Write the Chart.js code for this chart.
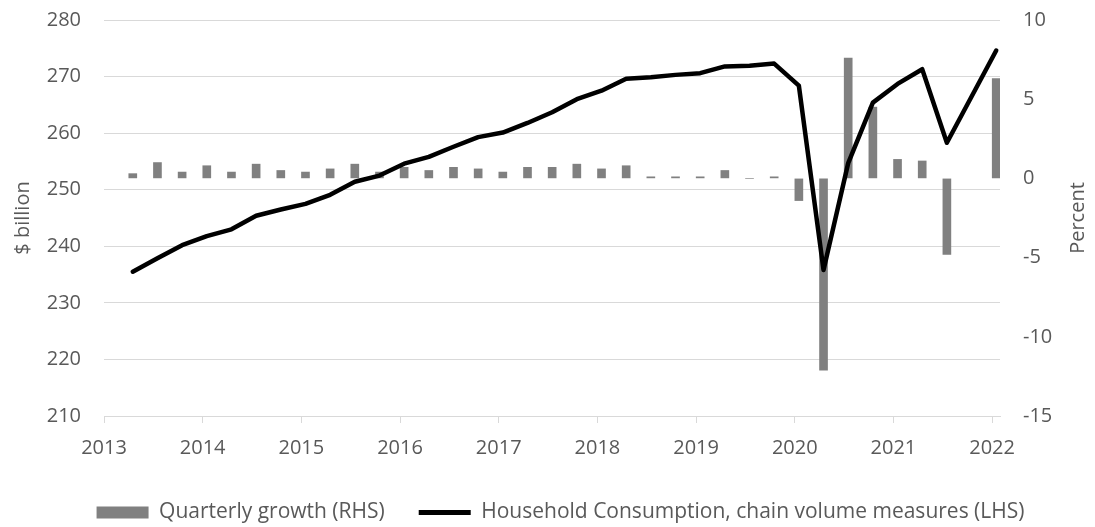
<!DOCTYPE html>
<html>
<head>
<meta charset="utf-8">
<script src="https://cdn.jsdelivr.net/npm/chart.js@4.4.1/dist/chart.umd.min.js"></script>
<style>
  html, body { margin: 0; padding: 0; background: #fff; }
  #wrap { width: 1095px; height: 527px; }
</style>
</head>
<body>
<div id="wrap"><canvas id="chart"></canvas></div>
<script>
// quarterly observations, as placed on the date axis
const dates = [
  '2013-04', '2013-07', '2013-10', '2014-01', '2014-04', '2014-07', '2014-10',
  '2015-01', '2015-04', '2015-07', '2015-10', '2016-01', '2016-04', '2016-07',
  '2016-10', '2017-01', '2017-04', '2017-07', '2017-10', '2018-01', '2018-04',
  '2018-07', '2018-10', '2019-01', '2019-04', '2019-07', '2019-10', '2020-01',
  '2020-04', '2020-07', '2020-10', '2021-01', '2021-04', '2021-07', '2022-01'
];

// $ billion
const consumption = [
  235.5, 237.9, 240.2, 241.8, 243.0, 245.4, 246.5,
  247.5, 249.1, 251.4, 252.5, 254.6, 255.8, 257.6,
  259.3, 260.1, 261.8, 263.7, 266.0, 267.5, 269.6,
  269.9, 270.3, 270.6, 271.8, 271.9, 272.3, 268.4,
  235.8, 254.7, 265.4, 268.7, 271.3, 258.3, 274.6
];

// percent, quarter on quarter
const growth = [
  0.3, 1.0, 0.4, 0.8, 0.4, 0.9, 0.5,
  0.4, 0.6, 0.9, 0.4, 0.7, 0.5, 0.7,
  0.6, 0.4, 0.7, 0.7, 0.9, 0.6, 0.8,
  0.1, 0.1, 0.1, 0.5, 0.0, 0.1, -1.4,
  -12.1, 7.6, 4.5, 1.2, 1.1, -4.8, 6.3
];

const years = [2013, 2014, 2015, 2016, 2017, 2018, 2019, 2020, 2021, 2022];

const FAMILY = "'Open Sans', 'Noto Sans', sans-serif";
const FONT = { family: FAMILY, size: 20 };
const TEXT = '#595959';
const GRID = '#d9d9d9';

// 'YYYY-MM' -> decimal year at the middle of the month
const toYear = s => {
  const [y, m] = s.split('-').map(Number);
  return y + (m - 0.5) / 12;
};

// keep the value axes from pushing the plot area down
const noEdgePadding = s => { s.paddingTop = 0; s.paddingBottom = 0; };

// right-hand axis title, reading bottom to top like the left one
const percentTitle = {
  id: 'percentTitle',
  afterDraw(chart) {
    const s = chart.scales.y1;
    const ctx = chart.ctx;
    ctx.save();
    ctx.translate(s.left + 78, (s.top + s.bottom) / 2);
    ctx.rotate(-Math.PI / 2);
    ctx.font = `${FONT.size}px ${FAMILY}`;
    ctx.fillStyle = TEXT;
    ctx.textAlign = 'center';
    ctx.textBaseline = 'middle';
    ctx.fillText('Percent', 0, 0);
    ctx.restore();
  }
};

new Chart(document.getElementById('chart'), {
  type: 'bar',
  data: {
    datasets: [
      {
        type: 'bar',
        label: 'Quarterly growth (RHS)',
        data: dates.map((d, i) => ({ x: toYear(d), y: growth[i] })),
        backgroundColor: '#808080',
        barThickness: 8,
        yAxisID: 'y1',
        order: 2
      },
      {
        type: 'line',
        label: 'Household Consumption, chain volume measures (LHS)',
        data: dates.map((d, i) => ({ x: toYear(d), y: consumption[i] })),
        borderColor: '#000000',
        backgroundColor: '#000000',
        borderWidth: 4.5,
        borderJoinStyle: 'round',
        borderCapStyle: 'round',
        pointRadius: 0,
        tension: 0,
        yAxisID: 'y',
        order: 1
      }
    ]
  },
  options: {
    responsive: true,
    maintainAspectRatio: false,
    animation: false,
    devicePixelRatio: 1,
    layout: { padding: { top: 20, bottom: -6, left: 0, right: -26 } },
    plugins: {
      tooltip: { enabled: false },
      legend: {
        position: 'bottom',
        labels: {
          usePointStyle: true,
          pointStyleWidth: 52,
          boxHeight: 12,
          padding: 34,
          color: TEXT,
          font: { family: FAMILY, size: 21 },
          generateLabels(chart) {
            const items = Chart.defaults.plugins.legend.labels.generateLabels(chart);
            items.forEach(it => {
              if (it.datasetIndex === 0) {
                it.pointStyle = 'rect';
                it.lineWidth = 0;
              } else {
                it.pointStyle = 'line';
                it.lineWidth = 5;
                it.strokeStyle = '#000000';
              }
            });
            return items.sort((a, b) => a.datasetIndex - b.datasetIndex);
          }
        }
      }
    },
    scales: {
      x: {
        type: 'linear',
        offset: false,
        min: 2013,
        max: 2022.08,
        afterBuildTicks: s => { s.ticks = years.map(v => ({ value: v })); },
        afterFit: s => { s.height = 52; },
        ticks: {
          color: TEXT,
          font: FONT,
          padding: 13,
          maxRotation: 0,
          autoSkip: false,
          callback: v => String(v)
        },
        grid: { offset: false, drawOnChartArea: false, drawTicks: true, tickLength: 7, color: GRID },
        border: { color: GRID, width: 1 }
      },
      y: {
        position: 'left',
        min: 210,
        max: 280,
        afterFit: s => { s.width = 104; noEdgePadding(s); },
        ticks: { stepSize: 10, padding: 23, color: TEXT, font: FONT },
        grid: { color: GRID, drawTicks: false, lineWidth: 1 },
        border: { display: false },
        title: {
          display: true,
          text: '$ billion',
          color: TEXT,
          font: FONT,
          padding: { top: 11, bottom: 0 }
        }
      },
      y1: {
        position: 'right',
        min: -15,
        max: 10,
        afterFit: s => { s.width = 121; noEdgePadding(s); },
        ticks: { stepSize: 5, padding: 23, color: TEXT, font: FONT },
        grid: { drawOnChartArea: false, drawTicks: false },
        border: { display: false }
      }
    }
  },
  plugins: [percentTitle]
});
</script>
</body>
</html>
